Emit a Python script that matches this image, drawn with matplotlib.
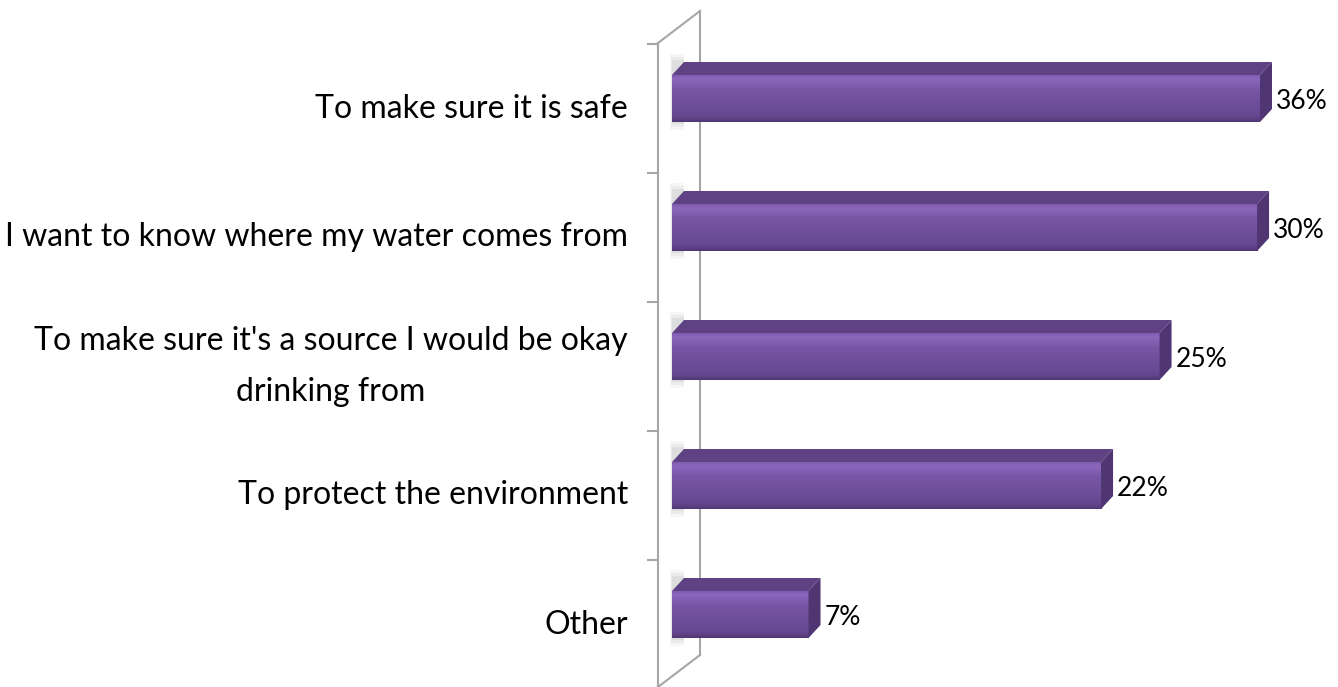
import numpy as np
import matplotlib
matplotlib.use("Agg")
from matplotlib import pyplot as plt
from matplotlib.patches import Polygon, Rectangle
from matplotlib.colors import LinearSegmentedColormap
from matplotlib.lines import Line2D

# data
categories = [
    "To make sure it is safe",
    "I want to know where my water comes from",
    "To make sure it's a source I would be okay\ndrinking from",
    "To protect the environment",
    "Other",
]
values = [36, 30, 25, 22, 7]
value_labels = ["36%", "30%", "25%", "22%", "7%"]
x_max = 30.15  # axis maximum of the original chart, longer bars are cut off

W, H = 1338, 687
plt.rcParams["font.family"] = ["Lato", "DejaVu Sans"]

fig = plt.figure(figsize=(W / 100, H / 100), dpi=100)


def fpx(x, y):
    """image pixel (from top left) -> figure fraction"""
    return x / W, 1 - y / H


# plot area: x 672..1260 px, categories 129 px apart, first boundary at y=44
left, right = 672, 1260
top, bottom = 44, 44 + 129 * 5
ax = fig.add_axes([left / W, 1 - bottom / H, (right - left) / W, (bottom - top) / H])
ax.set_xlim(0, x_max)
ax.set_ylim(len(values) - 0.5, -0.5)
ax.axis("off")
ax.patch.set_visible(False)

# side wall (thin 3d wall left of the bars)
wall_col = "#a6a6a6"
wall = [((658, 43), (658, 687)), ((700, 11), (700, 655)),
        ((658, 43), (700, 11)), ((658, 687), (700, 655))]
for (x0, y0), (x1, y1) in wall:
    a, b = fpx(x0, y0), fpx(x1, y1)
    fig.add_artist(Line2D([a[0], b[0]], [a[1], b[1]], color=wall_col, lw=1.5,
                          zorder=-2, transform=fig.transFigure))
for k in range(5):
    a, b = fpx(648, 44 + 129 * k), fpx(658, 44 + 129 * k)
    fig.add_artist(Line2D([a[0], b[0]], [a[1], b[1]], color=wall_col, lw=1.5,
                          zorder=-2, transform=fig.transFigure))

# bars
dx, dy = 12, 13            # depth of the bars in pixels
shift = -10 / 129          # bars sit a bit higher than the category centre
bar_h = 47 / 129
front_cmap = LinearSegmentedColormap.from_list(
    "front", [(0, "#7d5bad"), (0.08, "#8c68bd"), (0.3, "#7856a6"),
              (0.85, "#664891"), (0.95, "#5a3f82"), (1, "#4e366f")])
grad = np.linspace(0, 1, 256).reshape(-1, 1)

fig.canvas.draw()
to_disp = ax.transData.transform

for i, v in enumerate(values):
    v_draw = min(v, x_max)
    yc = i + shift
    bars = ax.barh(yc, v_draw, height=bar_h, left=0, color="#7050a0",
                   edgecolor="none", zorder=3)
    rect = bars[0]
    im = ax.imshow(grad, extent=[0, v_draw, yc + bar_h / 2, yc - bar_h / 2],
                   cmap=front_cmap, aspect="auto", zorder=4,
                   interpolation="bicubic")
    im.set_clip_path(rect)

    (xl, yb), (xr, yt) = to_disp([(0, yc + bar_h / 2), (v_draw, yc - bar_h / 2)])

    # soft shadow on the wall
    for k, a in enumerate([0.05, 0.07, 0.09]):
        grow = 8 - 3 * k
        fig.add_artist(Rectangle((xl - 2 + k, yb - grow), 14 - k, yt - yb + dy + 2 * grow,
                                 facecolor="#606060", alpha=a, edgecolor="none",
                                 transform=None, zorder=-1))

    top_face = Polygon([(xl, yt), (xr, yt), (xr + dx, yt + dy), (xl + dx, yt + dy)],
                       closed=True, facecolor="#5e4283", edgecolor="none",
                       transform=None, zorder=5)
    side_face = Polygon([(xr, yb), (xr, yt), (xr + dx, yt + dy), (xr + dx, yb + dy)],
                        closed=True, facecolor="#4f3673", edgecolor="none",
                        transform=None, zorder=5)
    fig.add_artist(top_face)
    fig.add_artist(side_face)

    # value label
    fig.text((xr + dx + 4) / W, ((yt + yb) / 2 - 3) / H, value_labels[i],
             fontsize=19, color="black", ha="left", va="center")

# category labels
for i, cat in enumerate(categories):
    x, y = fpx(628, 44 + 129 * i + 64.5)
    fig.text(x, y, cat, fontsize=23, color="black", ha="right", va="center",
             multialignment="center", linespacing=1.9)

fig.savefig("out.png", dpi=100)
